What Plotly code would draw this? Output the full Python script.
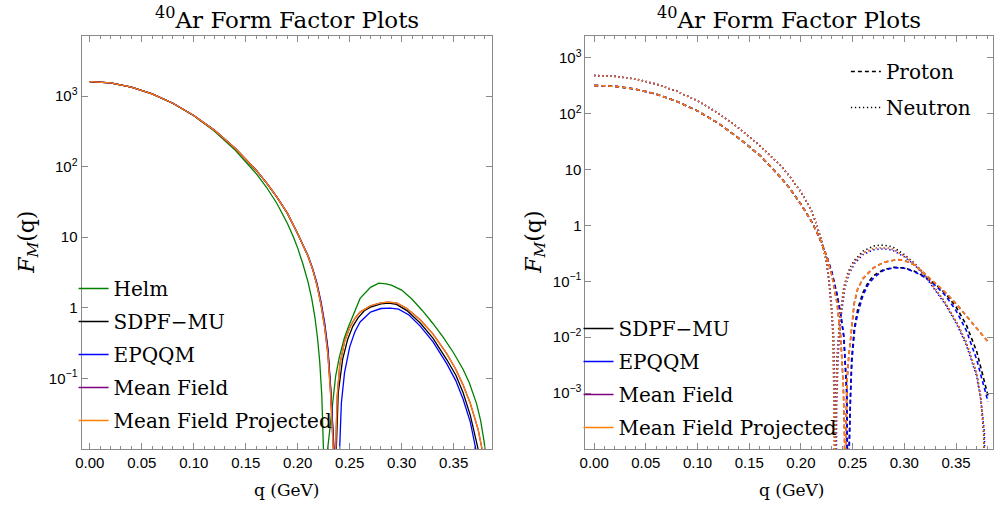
import plotly.graph_objects as go

# ---------------- LEFT PANEL DATA (total form factor, q in GeV) ----------------
q_main = [0.00, 0.02, 0.04, 0.06, 0.08, 0.10, 0.12, 0.14, 0.16, 0.17, 0.18, 0.19, 0.20]
F_main = [1600, 1530, 1340, 1075, 789, 530, 326, 180, 89, 59, 37, 21.9, 11.2]

helm_q = [0.00, 0.02, 0.04, 0.06, 0.08, 0.10, 0.12, 0.14, 0.16, 0.17, 0.18, 0.19, 0.196, 0.200, 0.205,
          0.210, 0.2135, 0.2165, 0.219, 0.2212, 0.2232, 0.2250, 0.2268, 0.2288, 0.2311, 0.2335, 0.2365,
          0.240, 0.245, 0.249, 0.255, 0.260, 0.270, 0.278, 0.285, 0.290, 0.300, 0.310, 0.320, 0.330,
          0.340, 0.350, 0.359, 0.365, 0.372, 0.376, 0.3793, 0.381]
helm_F = [1600, 1530, 1340, 1070, 785, 525, 316, 170, 80, 51, 30, 15.8, 10.0, 7.0, 4.17,
          2.29, 1.35, 0.74, 0.38, 0.17, 0.056, 0.010, 0.001, 0.010, 0.0214, 0.045, 0.108,
          0.20, 0.38, 0.546, 0.92, 1.36, 1.95, 2.23, 2.19, 2.09, 1.78, 1.32, 0.91, 0.60,
          0.38, 0.229, 0.135, 0.087, 0.044, 0.025, 0.0126, 0.0079]

sdpf_tail_q = [0.205, 0.210, 0.2145, 0.2185, 0.2225, 0.226, 0.229, 0.2317, 0.2347, 0.2362, 0.2371,
               0.239, 0.2432, 0.248, 0.253, 0.258, 0.264, 0.270, 0.280, 0.2875, 0.295, 0.305,
               0.3178, 0.330, 0.3433, 0.352, 0.359, 0.366, 0.3735, 0.378]
sdpf_tail_F = [7.94, 5.37, 3.47, 2.14, 1.12, 0.55, 0.251, 0.0708, 0.010, 0.001, 0.010,
               0.063, 0.186, 0.355, 0.546, 0.72, 0.91, 1.02, 1.135, 1.164, 1.12, 0.912,
               0.608, 0.372, 0.185, 0.112, 0.063, 0.030, 0.010, 0.0032]

epqqm_tail_q = [0.205, 0.210, 0.2145, 0.2185, 0.2225, 0.226, 0.229, 0.2317, 0.2349, 0.2375, 0.2403,
                0.242, 0.245, 0.250, 0.255, 0.260, 0.270, 0.280, 0.289, 0.297, 0.307, 0.3178,
                0.330, 0.3433, 0.352, 0.359, 0.366, 0.3713, 0.375]
epqqm_tail_F = [8.0, 5.45, 3.55, 2.24, 1.20, 0.60, 0.27, 0.075, 0.010, 0.001, 0.010,
                0.045, 0.12, 0.28, 0.457, 0.63, 0.87, 0.977, 0.99, 0.955, 0.79, 0.55,
                0.331, 0.162, 0.093, 0.051, 0.024, 0.010, 0.004]

mf_tail_q = [0.205, 0.210, 0.2145, 0.2185, 0.2225, 0.226, 0.229, 0.2315, 0.2342, 0.2355, 0.2365,
             0.238, 0.2405, 0.245, 0.250, 0.255, 0.260, 0.270, 0.280, 0.287, 0.295, 0.305,
             0.3178, 0.330, 0.3433, 0.352, 0.359, 0.366, 0.3735, 0.3776, 0.380]
mf_tail_F = [7.94, 5.37, 3.45, 2.10, 1.08, 0.52, 0.22, 0.065, 0.010, 0.001, 0.010,
             0.056, 0.158, 0.33, 0.525, 0.71, 0.87, 1.07, 1.175, 1.20, 1.175, 0.977,
             0.676, 0.427, 0.224, 0.135, 0.081, 0.044, 0.019, 0.010, 0.0063]

mfp_tail_q = [0.205, 0.210, 0.2145, 0.2185, 0.2225, 0.226, 0.229, 0.2315, 0.2342, 0.2355, 0.2365,
              0.238, 0.2405, 0.245, 0.250, 0.255, 0.260, 0.270, 0.280, 0.287, 0.295, 0.305,
              0.3178, 0.330, 0.3433, 0.352, 0.359, 0.366, 0.3735, 0.3776, 0.380]
mfp_tail_F = [7.94, 5.37, 3.45, 2.10, 1.08, 0.52, 0.22, 0.065, 0.010, 0.001, 0.010,
              0.056, 0.158, 0.33, 0.525, 0.71, 0.87, 1.07, 1.175, 1.20, 1.175, 0.977,
              0.676, 0.427, 0.224, 0.135, 0.081, 0.044, 0.019, 0.010, 0.0063]

# ---------------- RIGHT PANEL DATA (proton / neutron) ----------------
p_main_q = [0.00, 0.02, 0.04, 0.06, 0.08, 0.10, 0.12, 0.14, 0.16, 0.18, 0.19, 0.20, 0.21, 0.215, 0.22, 0.225]
p_main_F = [320, 309, 275, 224, 166, 112, 67.6, 36.3, 18.2, 7.4, 4.4, 2.4, 1.2, 0.79, 0.48, 0.28]

n_main_q = [0.00, 0.02, 0.04, 0.06, 0.08, 0.10, 0.12, 0.14, 0.16, 0.18, 0.19, 0.20, 0.21, 0.215, 0.22]
n_main_F = [482, 466, 417, 339, 251, 170, 102, 55, 26.9, 12.0, 7.2, 3.98, 1.86, 1.07, 0.525]

sdpf_p_tail_q = [0.230, 0.235, 0.2385, 0.2415, 0.2442, 0.2452, 0.2456, 0.2465, 0.2477, 0.249, 0.2515,
                 0.255, 0.260, 0.265, 0.270, 0.280, 0.290, 0.300, 0.310, 0.320, 0.330, 0.340,
                 0.350, 0.360, 0.370, 0.375, 0.381]
sdpf_p_tail_F = [0.141, 0.056, 0.025, 0.010, 0.001, 1e-4, 1e-6, 1e-4, 0.001, 0.004, 0.014,
                 0.032, 0.063, 0.095, 0.126, 0.162, 0.178, 0.174, 0.151, 0.120, 0.089, 0.060,
                 0.035, 0.0166, 0.0056, 0.0025, 0.00089]

epqqm_p_tail_q = [0.230, 0.235, 0.2385, 0.2415, 0.2445, 0.2454, 0.2458, 0.2468, 0.248, 0.2495, 0.252,
                  0.2548, 0.260, 0.265, 0.2708, 0.280, 0.290, 0.300, 0.310, 0.320, 0.330, 0.340,
                  0.350, 0.360, 0.370, 0.375, 0.381]
epqqm_p_tail_F = [0.145, 0.058, 0.026, 0.0105, 0.001, 1e-4, 1e-6, 1e-4, 0.001, 0.004, 0.014,
                  0.026, 0.056, 0.087, 0.118, 0.158, 0.176, 0.172, 0.148, 0.117, 0.085, 0.055,
                  0.030, 0.0132, 0.004, 0.0018, 0.0007]

mf_p_tail_q = [0.230, 0.235, 0.2385, 0.241, 0.2422, 0.2428, 0.2434, 0.2445, 0.246, 0.2485, 0.2515,
               0.255, 0.260, 0.2644, 0.270, 0.280, 0.290, 0.2933, 0.300, 0.310, 0.319, 0.330,
               0.341, 0.350, 0.3606, 0.370, 0.381]
mf_p_tail_F = [0.126, 0.040, 0.010, 0.0013, 1.6e-4, 1e-6, 1.6e-4, 0.0015, 0.004, 0.0126, 0.040,
               0.074, 0.112, 0.136, 0.174, 0.219, 0.244, 0.246, 0.237, 0.195, 0.141, 0.093,
               0.060, 0.040, 0.0229, 0.0145, 0.0083]

mfp_p_tail_q = [0.230, 0.235, 0.2385, 0.241, 0.2422, 0.2428, 0.2434, 0.2445, 0.246, 0.2485, 0.2515,
                0.255, 0.260, 0.2644, 0.270, 0.280, 0.290, 0.2933, 0.300, 0.310, 0.319, 0.330,
                0.341, 0.350, 0.3606, 0.370, 0.381]
mfp_p_tail_F = [0.126, 0.040, 0.010, 0.0013, 1.6e-4, 1e-6, 1.6e-4, 0.0015, 0.004, 0.0126, 0.040,
                0.074, 0.112, 0.136, 0.174, 0.219, 0.244, 0.246, 0.237, 0.195, 0.141, 0.093,
                0.060, 0.040, 0.0229, 0.0145, 0.0083]

sdpf_n_tail_q = [0.2245, 0.2272, 0.2295, 0.2310, 0.2320, 0.2326, 0.2328, 0.2331, 0.2336, 0.2350, 0.2375,
                 0.2415, 0.2455, 0.251, 0.260, 0.270, 0.2772, 0.285, 0.290, 0.300, 0.310, 0.320,
                 0.3285, 0.340, 0.351, 0.360, 0.370, 0.374, 0.377, 0.378]
sdpf_n_tail_F = [0.23, 0.095, 0.032, 0.010, 0.0015, 1.5e-4, 1e-6, 1.5e-4, 6e-4, 0.0045, 0.021,
                 0.079, 0.145, 0.229, 0.347, 0.427, 0.447, 0.43, 0.40, 0.30, 0.21, 0.132,
                 0.0785, 0.040, 0.0178, 0.0079, 0.0022, 8e-4, 1.6e-4, 1e-6]

epqqm_n_tail_q = [0.2245, 0.2272, 0.2295, 0.2318, 0.2328, 0.2335, 0.2338, 0.2341, 0.2346, 0.2360, 0.2385,
                  0.2425, 0.2465, 0.252, 0.260, 0.270, 0.2775, 0.285, 0.290, 0.300, 0.310, 0.320,
                  0.3285, 0.340, 0.351, 0.360, 0.370, 0.374, 0.3775, 0.379]
epqqm_n_tail_F = [0.25, 0.107, 0.039, 0.010, 0.0016, 1.5e-4, 1e-6, 1.5e-4, 6e-4, 0.0045, 0.021,
                  0.075, 0.135, 0.21, 0.30, 0.365, 0.38, 0.372, 0.35, 0.275, 0.195, 0.124,
                  0.075, 0.038, 0.0166, 0.0072, 0.0020, 7.5e-4, 2e-4, 1e-6]

mf_n_tail_q = [0.2245, 0.2272, 0.2295, 0.2314, 0.2323, 0.2330, 0.2333, 0.2336, 0.2340, 0.2355, 0.2380,
               0.2420, 0.2460, 0.2515, 0.260, 0.270, 0.2772, 0.285, 0.290, 0.300, 0.310, 0.320,
               0.3285, 0.340, 0.351, 0.360, 0.370, 0.374, 0.377, 0.3785]
mf_n_tail_F = [0.24, 0.10, 0.035, 0.010, 0.0016, 1.5e-4, 1e-6, 1.5e-4, 5e-4, 0.005, 0.0224,
               0.079, 0.141, 0.219, 0.32, 0.385, 0.40, 0.39, 0.365, 0.285, 0.203, 0.129,
               0.0785, 0.041, 0.018, 0.0081, 0.0023, 8.5e-4, 2e-4, 1e-6]

mfp_n_tail_q = [0.2245, 0.2272, 0.2295, 0.2314, 0.2323, 0.2330, 0.2333, 0.2336, 0.2340, 0.2355, 0.2380,
                0.2420, 0.2460, 0.2515, 0.260, 0.270, 0.2772, 0.285, 0.290, 0.300, 0.310, 0.320,
                0.3285, 0.340, 0.351, 0.360, 0.370, 0.374, 0.377, 0.3785]
mfp_n_tail_F = [0.24, 0.10, 0.035, 0.010, 0.0016, 1.5e-4, 1e-6, 1.5e-4, 5e-4, 0.005, 0.0224,
                0.079, 0.141, 0.219, 0.32, 0.385, 0.40, 0.39, 0.365, 0.285, 0.203, 0.129,
                0.0785, 0.041, 0.018, 0.0081, 0.0023, 8.5e-4, 2e-4, 1e-6]

# ---------------- TICKS / LABELS ----------------
left_ytickvals = [0.1, 1, 10, 100, 1000]
left_yticktext = ["10<sup>−1</sup>", "1", "10", "10<sup>2</sup>", "10<sup>3</sup>"]
right_ytickvals = [0.001, 0.01, 0.1, 1, 10, 100, 1000]
right_yticktext = ["10<sup>−3</sup>", "10<sup>−2</sup>", "10<sup>−1</sup>", "1", "10",
                   "10<sup>2</sup>", "10<sup>3</sup>"]

models = ["SDPF−MU", "EPQQM", "Mean Field", "Mean Field Projected"]
colors = {"Helm": "#008000", "SDPF−MU": "#000000", "EPQQM": "#0000ff",
          "Mean Field": "#800080", "Mean Field Projected": "#ff8000"}

W, H = 994, 506
SERIF = "DejaVu Serif, Liberation Serif, serif"
SANS = "Liberation Sans, Arial, sans-serif"
GRAY = "#8a8a8a"

fig = go.Figure()

LW = 1.3
left_series = [
    ("Helm", helm_q, helm_F),
    ("SDPF−MU", q_main + sdpf_tail_q, F_main + sdpf_tail_F),
    ("EPQQM", q_main + epqqm_tail_q, F_main + epqqm_tail_F),
    ("Mean Field", q_main + mf_tail_q, F_main + mf_tail_F),
    ("Mean Field Projected", q_main + mfp_tail_q, F_main + mfp_tail_F),
]
for name, qq, ff in left_series:
    fig.add_trace(go.Scatter(x=qq, y=ff, mode="lines", name=name,
                             line=dict(color=colors[name], width=LW),
                             xaxis="x", yaxis="y", legend="legend", legendgroup="L" + name))

right_p = {
    "SDPF−MU": (p_main_q + sdpf_p_tail_q, p_main_F + sdpf_p_tail_F),
    "EPQQM": (p_main_q + epqqm_p_tail_q, p_main_F + epqqm_p_tail_F),
    "Mean Field": (p_main_q + mf_p_tail_q, p_main_F + mf_p_tail_F),
    "Mean Field Projected": (p_main_q + mfp_p_tail_q, p_main_F + mfp_p_tail_F),
}
right_n = {
    "SDPF−MU": (n_main_q + sdpf_n_tail_q, n_main_F + sdpf_n_tail_F),
    "EPQQM": (n_main_q + epqqm_n_tail_q, n_main_F + epqqm_n_tail_F),
    "Mean Field": (n_main_q + mf_n_tail_q, n_main_F + mf_n_tail_F),
    "Mean Field Projected": (n_main_q + mfp_n_tail_q, n_main_F + mfp_n_tail_F),
}
DASH = "4px,3px"
DOT = "1.3px,2.7px"
for name in models:
    qq, ff = right_p[name]
    fig.add_trace(go.Scatter(x=qq, y=ff, mode="lines", showlegend=False,
                             line=dict(color=colors[name], width=1.6, dash=DASH),
                             xaxis="x2", yaxis="y2"))
    qq, ff = right_n[name]
    fig.add_trace(go.Scatter(x=qq, y=ff, mode="lines", showlegend=False,
                             line=dict(color=colors[name], width=1.6, dash=DOT),
                             xaxis="x2", yaxis="y2"))

for name in models:
    fig.add_trace(go.Scatter(x=[None], y=[None], mode="lines", name=name,
                             line=dict(color=colors[name], width=LW),
                             xaxis="x2", yaxis="y2", legend="legend2", legendgroup="R" + name))
fig.add_trace(go.Scatter(x=[None], y=[None], mode="lines", name="Proton",
                         line=dict(color="black", width=1.5, dash=DASH),
                         xaxis="x2", yaxis="y2", legend="legend3", legendgroup="P"))
fig.add_trace(go.Scatter(x=[None], y=[None], mode="lines", name="Neutron",
                         line=dict(color="black", width=1.5, dash=DOT),
                         xaxis="x2", yaxis="y2", legend="legend3", legendgroup="N"))

ytop, ybot = 36, 449
ydom = [(H - ybot) / H, (H - ytop) / H]


def xaxis(domain, rng, anchor):
    return dict(domain=domain, range=rng, anchor=anchor, showline=True, linecolor=GRAY, linewidth=1,
                mirror="allticks", ticks="inside", ticklen=6, tickcolor=GRAY, tickwidth=1,
                tick0=0, dtick=0.05, tickformat=".2f", showgrid=False, zeroline=False,
                tickfont=dict(family=SANS, size=15, color="black"),
                minor=dict(dtick=0.01, ticks="inside", ticklen=3, tickcolor=GRAY, showgrid=False))


def yaxis(domain, rng, anchor, tv, tt):
    return dict(domain=domain, range=rng, anchor=anchor, type="log", showline=True, linecolor=GRAY,
                linewidth=1, mirror="allticks", ticks="inside", ticklen=6, tickcolor=GRAY, tickwidth=1,
                tickvals=tv, ticktext=tt, showgrid=False, zeroline=False,
                tickfont=dict(family=SANS, size=15, color="black"))


LEG_FONT = dict(family=SERIF, size=20, color="black")
fig.update_layout(
    width=W, height=H, margin=dict(l=0, r=0, t=0, b=0),
    paper_bgcolor="white", plot_bgcolor="white",
    xaxis=xaxis([76 / W, 489 / W], [-0.0079, 0.3869], "y"),
    yaxis=yaxis(ydom, [-2, 3.85], "x", left_ytickvals, left_yticktext),
    xaxis2=xaxis([583 / W, 993 / W], [-0.0084, 0.3858], "y2"),
    yaxis2=yaxis(ydom, [-4, 3.39], "x2", right_ytickvals, right_yticktext),
    legend=dict(x=68 / W, y=1 - 269 / H, xanchor="left", yanchor="top", bgcolor="rgba(0,0,0,0)",
                font=LEG_FONT, tracegroupgap=4, itemwidth=30),
    legend2=dict(x=576 / W, y=1 - 309 / H, xanchor="left", yanchor="top", bgcolor="rgba(0,0,0,0)",
                 font=LEG_FONT, tracegroupgap=4, itemwidth=30),
    legend3=dict(x=845 / W, y=1 - 52 / H, xanchor="left", yanchor="top", bgcolor="rgba(0,0,0,0)",
                 font=LEG_FONT, tracegroupgap=7, itemwidth=30),
    showlegend=True,
)

annots = [
    dict(text="<sup>40</sup>Ar Form Factor Plots", x=282.5 / W, y=1 - 18 / H, size=23),
    dict(text="<sup>40</sup>Ar Form Factor Plots", x=788 / W, y=1 - 18 / H, size=23),
    dict(text="q (GeV)", x=282 / W, y=1 - 490 / H, size=17),
    dict(text="q (GeV)", x=790 / W, y=1 - 490 / H, size=17),
]
for a in annots:
    fig.add_annotation(text=a["text"], x=a["x"], y=a["y"], xref="paper", yref="paper",
                       xanchor="center", yanchor="middle", showarrow=False,
                       font=dict(family=SERIF, size=a["size"], color="black"))
for xp in [22, 532]:
    fig.add_annotation(text="<i>F</i><sub><i>M</i></sub>(q)", x=xp / W, y=1 - 242 / H,
                       xref="paper", yref="paper", xanchor="center", yanchor="middle",
                       textangle=-90, showarrow=False,
                       font=dict(family=SERIF, size=22, color="black"))

fig.write_html("out.html")
